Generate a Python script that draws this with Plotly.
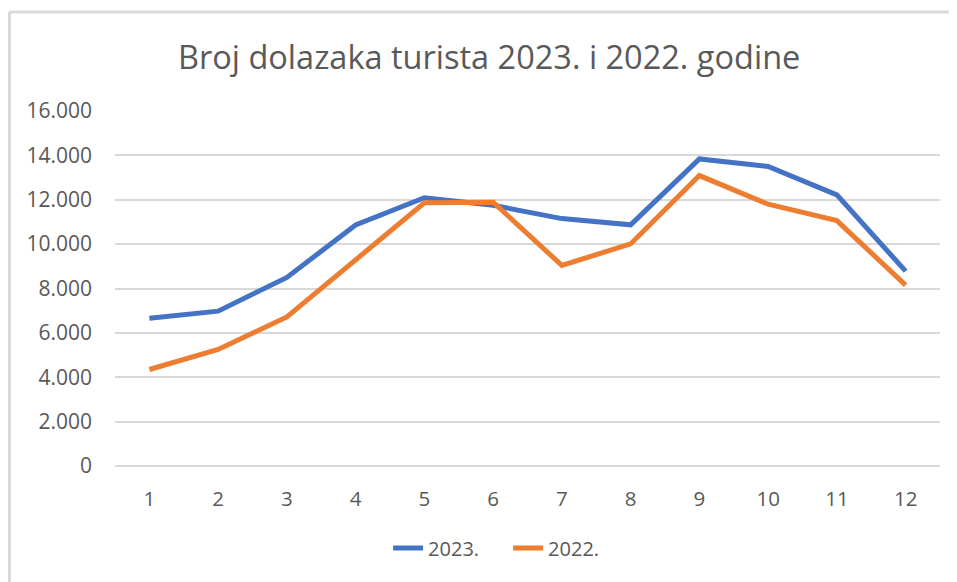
import plotly.graph_objects as go

months = ["1", "2", "3", "4", "5", "6", "7", "8", "9", "10", "11", "12"]
y2023 = [6660, 6980, 8500, 10860, 12090, 11750, 11150, 10870, 13840, 13500, 12220, 8780]
y2022 = [4350, 5250, 6720, 9320, 11860, 11890, 9040, 10010, 13090, 11800, 11060, 8150]
tick_vals = [0, 2000, 4000, 6000, 8000, 10000, 12000, 14000, 16000]

fig = go.Figure()
fig.add_trace(go.Scatter(x=months, y=y2023, mode="lines", name="2023.",
                         line=dict(color="#4472C4", width=5)))
fig.add_trace(go.Scatter(x=months, y=y2022, mode="lines", name="2022.",
                         line=dict(color="#ED7D31", width=5)))

font_fam = "'Open Sans', 'Noto Sans', sans-serif"
# the page body adds an 8px offset, so the figure is 8px smaller than the window
fig.update_layout(
    width=949, height=574,
    margin=dict(l=107, r=17, t=103, b=116),
    paper_bgcolor="white", plot_bgcolor="white",
    separators=",.",
    font=dict(family=font_fam, color="#595959", size=20),
    title=dict(text="Broj dolazaka turista 2023. i 2022. godine",
               x=0.507, xanchor="center", y=0.913, yanchor="middle",
               font=dict(size=32.5, color="#595959", family=font_fam)),
    xaxis=dict(type="category", range=[-0.5, 11.5], showgrid=False,
               showline=False, ticks="", ticklabelstandoff=18,
               tickfont=dict(size=20.5, color="#595959")),
    yaxis=dict(range=[0, 16000], tickvals=tick_vals, tickformat=",d",
               showgrid=True, gridcolor="#d9d9d9", gridwidth=2,
               zeroline=True, zerolinecolor="#d9d9d9", zerolinewidth=2,
               ticks="", ticklabelstandoff=22, tickfont=dict(size=21, color="#595959")),
    legend=dict(orientation="h", x=0.4765, xanchor="center", y=-0.231, yanchor="middle",
                entrywidth=75, entrywidthmode="pixels",
                font=dict(size=20, color="#595959")),
    showlegend=True,
)

# chart-area border (top and left edges, as in the reference)
fig.add_shape(type="line", xref="paper", yref="paper",
              x0=-0.128, x1=1.03, y0=1.279, y1=1.279,
              line=dict(color="#d9d9d9", width=3))
fig.add_shape(type="line", xref="paper", yref="paper",
              x0=-0.128, x1=-0.128, y0=1.279, y1=-0.35,
              line=dict(color="#d9d9d9", width=3))

fig.write_html("out.html")
